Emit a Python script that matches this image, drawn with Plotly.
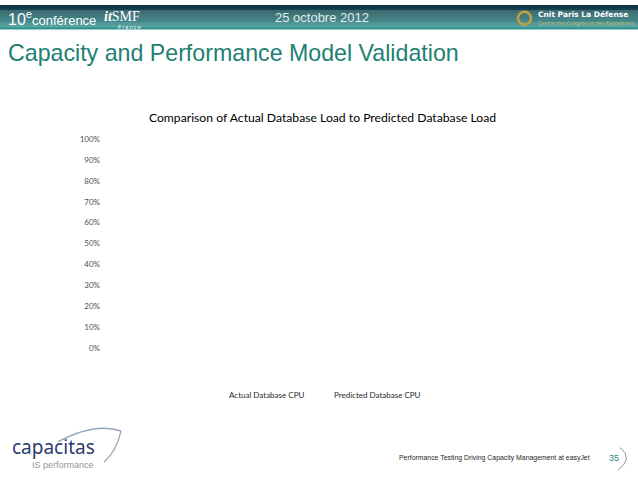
import plotly.graph_objects as go

# ---- data (the reference chart shows no visible bars) ----
categories = [""]
actual_cpu = [None]
predicted_cpu = [None]
series_names = ["Actual Database CPU", "Predicted Database CPU"]
y_tick_values = [0, 0.1, 0.2, 0.3, 0.4, 0.5, 0.6, 0.7, 0.8, 0.9, 1.0]
y_tick_labels = ["0%", "10%", "20%", "30%", "40%", "50%", "60%", "70%", "80%", "90%", "100%"]

W, H = 638, 479

def px(x):
    return x / W

def py(y):
    return 1 - y / H

fig = go.Figure()
fig.add_trace(go.Bar(x=categories, y=actual_cpu, name=series_names[0],
                     marker=dict(color="rgba(0,0,0,0)", line=dict(width=0)),
                     legend="legend", showlegend=True))
fig.add_trace(go.Bar(x=categories, y=predicted_cpu, name=series_names[1],
                     marker=dict(color="rgba(0,0,0,0)", line=dict(width=0)),
                     legend="legend2", showlegend=True))

shapes = []
# header gradient band
top = (16, 52, 66)
bot = (28, 128, 126)
n = 22
for i in range(n):
    t = i / (n - 1)
    c = tuple(int(top[k] + (bot[k] - top[k]) * t) for k in range(3))
    shapes.append(dict(type="rect", xref="paper", yref="paper",
                       x0=0, x1=1, y0=py(i + 1), y1=py(i),
                       fillcolor="rgb(%d,%d,%d)" % c, line=dict(width=0), layer="below"))
shapes.append(dict(type="rect", xref="paper", yref="paper", x0=0, x1=1,
                   y0=py(25), y1=py(22), fillcolor="rgb(52,150,145)",
                   line=dict(width=0), layer="below"))
# gold emblem in header
shapes.append(dict(type="circle", xref="paper", yref="paper",
                   x0=px(518), x1=px(531), y0=py(20), y1=py(7),
                   line=dict(color="rgb(196,160,60)", width=2.5), fillcolor="rgba(0,0,0,0)"))
# capacitas swoosh
shapes.append(dict(type="path", xref="paper", yref="paper",
                   path="M %f %f Q %f %f %f %f" % (px(58), py(446), px(95), py(426), px(121), py(435)),
                   line=dict(color="rgb(150,165,190)", width=1.5)))
shapes.append(dict(type="path", xref="paper", yref="paper",
                   path="M %f %f Q %f %f %f %f" % (px(121), py(435), px(117), py(455), px(104), py(467)),
                   line=dict(color="rgb(150,165,190)", width=1.2)))
# page number arc
shapes.append(dict(type="path", xref="paper", yref="paper",
                   path="M %f %f Q %f %f %f %f" % (px(620), py(452), px(634), py(463), px(618), py(475)),
                   line=dict(color="rgb(120,120,120)", width=0.8)))

ann = []
def text(x, y, s, size, color, family="Liberation Sans", xanchor="left", **kw):
    ann.append(dict(x=px(x), y=py(y), xref="paper", yref="paper", text=s, showarrow=False,
                    xanchor=xanchor, yanchor="middle",
                    font=dict(size=size, color=color, family=family), **kw))

text(6, 13, "10<sup>e</sup><span style='font-size:13px'>conférence</span>", 16, "white", "Liberation Sans")
text(102, 12, "<i><b>it</b></i>SMF", 14, "white", "Liberation Serif")
text(116, 22, "F r a n c e", 5, "white")
text(322, 13, "25 octobre 2012", 13, "rgb(225,235,235)", xanchor="center")
text(536, 10, "<b>Cnit Paris La Défense</b>", 7.5, "white", "DejaVu Sans")
text(536, 19, "Centre des Congrès et des Expositions", 5, "rgb(210,190,110)", "DejaVu Sans")
text(6, 49, "Capacity and Performance Model Validation", 23.2, "rgb(32,128,115)")
text(10, 451, "capacitas", 19, "rgb(45,60,110)", "Noto Sans")
text(30, 470, "IS performance", 9, "rgb(150,150,150)")
text(397, 463, "Performance Testing Driving Capacity Management at easyJet", 6.9,
     "rgb(40,40,40)")
text(614, 463, "35", 9, "rgb(40,140,130)", xanchor="center")

fig.update_layout(
    width=W, height=H,
    margin=dict(l=0, r=0, t=0, b=0),
    paper_bgcolor="white", plot_bgcolor="white",
    barmode="group",
    title=dict(text="Comparison of Actual Database Load to Predicted Database Load",
               x=322.5 / W, xanchor="center", y=py(118), yanchor="middle",
               font=dict(family="Lato", size=12.2, color="black")),
    xaxis=dict(domain=[px(105), px(560)], showgrid=False, showticklabels=False,
               zeroline=False, showline=False, ticks=""),
    yaxis=dict(domain=[py(350), py(137)], range=[0, 1], tickvals=y_tick_values,
               ticktext=y_tick_labels, showgrid=False, zeroline=False, showline=False,
               tickfont=dict(family="Lato", size=8, color="rgb(80,80,80)"), ticklabelstandoff=4),
    legend=dict(orientation="h", x=px(189), y=py(398), xanchor="left", yanchor="middle",
                font=dict(family="Lato", size=8, color="rgb(40,40,40)"),
                bgcolor="rgba(0,0,0,0)"),
    legend2=dict(orientation="h", x=px(294), y=py(398), xanchor="left", yanchor="middle",
                 font=dict(family="Lato", size=8, color="rgb(40,40,40)"),
                 bgcolor="rgba(0,0,0,0)"),
    shapes=shapes,
    annotations=ann,
    showlegend=True,
)

fig.write_html("out.html", config={"displayModeBar": False},
               post_script="document.body.style.margin='0';document.body.style.padding='0';")
